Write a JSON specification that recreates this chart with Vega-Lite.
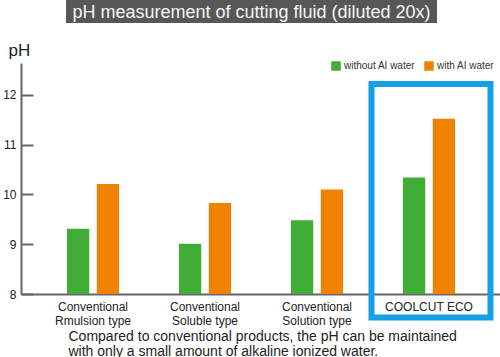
{
  "$schema": "https://vega.github.io/schema/vega-lite/v6.json",
  "autosize": {"type": "pad"},
  "padding": {"left": 2, "top": 0, "right": 0, "bottom": 0},
  "bounds": "flush",
  "spacing": 40,
  "background": "white",
  "config": {"view": {"stroke": null}, "font": "Liberation Sans"},
  "vconcat": [
    {
      "width": 480,
      "height": 23,
      "data": {"values": [{"title": "pH measurement of cutting fluid (diluted 20x)"}]},
      "encoding": {
        "x": {"field": "title", "type": "nominal", "axis": null,
              "scale": {"paddingInner": 0, "paddingOuter": 0.1469, "align": 0.413}}
      },
      "layer": [
        {"mark": {"type": "rect", "color": "#575757"}},
        {"mark": {"type": "text", "color": "#f5f5f5", "fontSize": 18, "dy": 1},
         "encoding": {"text": {"field": "title", "type": "nominal"}}}
      ]
    },
    {
      "width": 480,
      "height": 231,
      "layer": [
        {
          "data": {"values": [
            {"product": "Conventional Rmulsion type", "series": "without AI water", "ph": 9.31},
            {"product": "Conventional Rmulsion type", "series": "with AI water", "ph": 10.21},
            {"product": "Conventional Soluble type", "series": "without AI water", "ph": 9.01},
            {"product": "Conventional Soluble type", "series": "with AI water", "ph": 9.83},
            {"product": "Conventional Solution type", "series": "without AI water", "ph": 9.48},
            {"product": "Conventional Solution type", "series": "with AI water", "ph": 10.10},
            {"product": "COOLCUT ECO", "series": "without AI water", "ph": 10.34},
            {"product": "COOLCUT ECO", "series": "with AI water", "ph": 11.52}
          ]},
          "mark": {"type": "bar", "clip": true},
          "encoding": {
            "x": {"field": "product", "type": "nominal",
                  "scale": {"domain": ["Conventional Rmulsion type", "Conventional Soluble type", "Conventional Solution type", "COOLCUT ECO"],
                            "paddingInner": 0, "paddingOuter": 0.143},
                  "axis": {
                    "title": ["Compared to conventional products, the pH can be maintained", "with only a small amount of alkaline ionized water."],
                    "labelExpr": "indexof(datum.label, 'Conventional ') == 0 ? ['Conventional', substring(datum.label, 13)] : datum.label",
                    "labelAngle": 0, "ticks": false,
                    "domainColor": "#666666", "domainWidth": 2,
                    "labelFontSize": 12, "labelColor": "#222222", "labelPadding": 7, "labelLineHeight": 14, "labelDx": 2,
                    "titleFontSize": 14, "titleFontWeight": "normal", "titleColor": "#222222",
                    "titleX": 47, "titleY": 46, "titleAlign": "left", "titleAnchor": "start",
                    "titleBaseline": "alphabetic", "titleLineHeight": 15
                  }},
            "xOffset": {"field": "series", "type": "nominal",
                        "scale": {"domain": ["without AI water", "with AI water"], "paddingInner": 0.2545, "paddingOuter": 1.164}},
            "y": {"field": "ph", "type": "quantitative",
                  "scale": {"domain": [8, 12.64], "zero": false, "nice": false},
                  "axis": {
                    "values": [8, 9, 10, 11, 12], "grid": false,
                    "domainColor": "#666666", "domainWidth": 2,
                    "tickColor": "#666666", "tickWidth": 2, "tickSize": -12,
                    "labelFontSize": 12, "labelColor": "#222222", "labelPadding": 17,
                    "title": "pH", "titleAngle": 0, "titleFontSize": 17, "titleFontWeight": "normal", "titleColor": "#222222",
                    "titleX": -13, "titleY": -8, "titleAlign": "left", "titleBaseline": "alphabetic"
                  }},
            "color": {"field": "series", "type": "nominal",
                      "scale": {"domain": ["without AI water", "with AI water"], "range": ["#40ad36", "#ef8200"]},
                      "legend": {"title": null, "orient": "none", "legendX": 310, "legendY": 61,
                                 "direction": "horizontal", "symbolType": "square", "symbolSize": 90,
                                 "symbolStrokeWidth": 0, "labelFontSize": 10, "labelColor": "#333333",
                                 "columnPadding": 8, "labelOffset": 3}}
          }
        },
        {
          "data": {"values": [{"product": "COOLCUT ECO"}]},
          "mark": {"type": "rect", "fill": "transparent", "stroke": "#14a0e4", "strokeWidth": 6,
                   "width": 119, "xOffset": 2},
          "encoding": {"x": {"field": "product", "type": "nominal"},
                       "y": {"datum": 12.22}, "y2": {"datum": 7.53}}
        }
      ]
    }
  ]
}
